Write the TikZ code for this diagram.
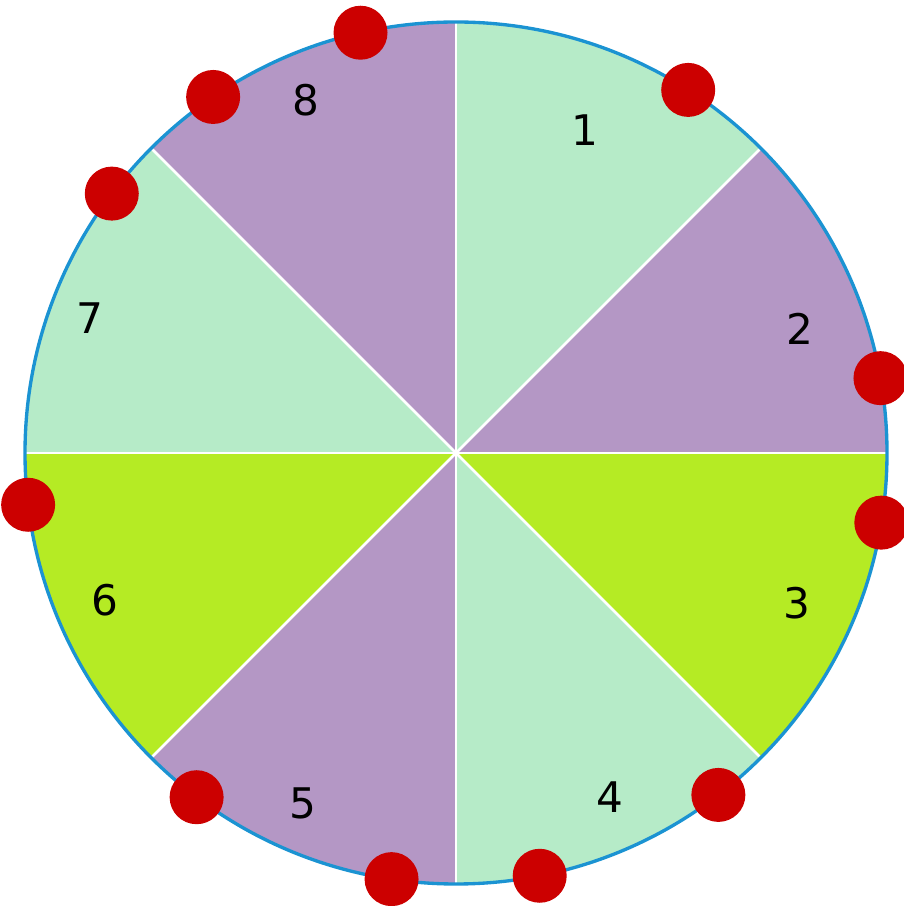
\documentclass[tikz,border=0pt]{standalone}
\usepackage{fontspec}
\setmainfont{DejaVu Sans}
\usetikzlibrary{calc}

\definecolor{lgreen}{HTML}{B6EBC8}
\definecolor{lilac}{HTML}{B497C5}
\definecolor{lime}{HTML}{B5EB24}
\definecolor{rimblue}{HTML}{1B93D2}
\definecolor{dotred}{HTML}{CC0000}

\begin{document}
\begin{tikzpicture}[x=0.02cm, y=0.02cm,
  spoke/.style={draw=white, line width=1.6pt},
  rim/.style={draw=rimblue, line width=1.9pt},
  pin/.style={circle, fill=dotred, minimum size=1.08cm, inner sep=0pt},
  num/.style={font=\fontsize{24}{28}\selectfont, text=black}]
\useasboundingbox (0,0) rectangle (903,906);
\coordinate (c) at (456,453);
% sectors, clockwise from the top
\foreach \k/\col in {0/lgreen,1/lilac,2/lime,3/lgreen,4/lilac,5/lime,6/lgreen,7/lilac}{
  \fill[\col] (c) -- ++({90-45*\k}:431) arc[start angle={90-45*\k}, end angle={45-45*\k}, radius=431] -- cycle;
}
\foreach \a in {0,45,...,315}{
  \draw[spoke] (c) -- ++(\a:431);
}
\draw[rim] (c) circle[radius=431];
% sector numbers
\node[num] (n1) at (585,776) {1};
\node[num] (n2) at (800,577) {2};
\node[num] (n3) at (797,303) {3};
\node[num] (n4) at (610,109) {4};
\node[num] (n5) at (303,103) {5};
\node[num] (n6) at (105,306) {6};
\node[num] (n7) at (90,588) {7};
\node[num] (n8) at (306,806) {8};
% red pins on the rim
\foreach \a [count=\i] in {102.8,57.4,124.3,143.0,10.0,-9.3,186.9,-127.0,-98.6,-78.8,-52.5}{
  \node[pin] (p\i) at ($(c)+(\a:431)$) {};
}
\end{tikzpicture}
\end{document}
